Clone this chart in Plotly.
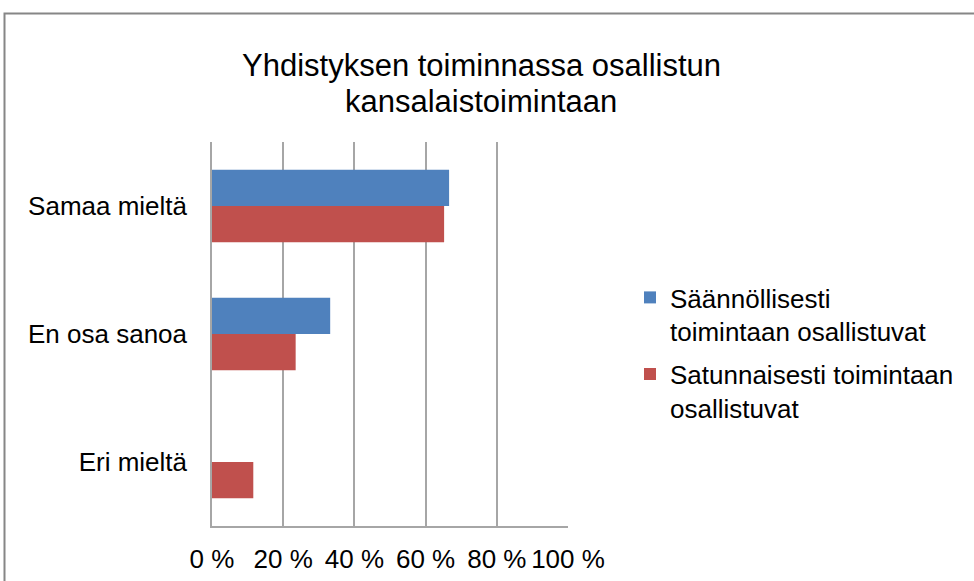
import plotly.graph_objects as go

categories = ["Samaa mieltä", "En osa sanoa", "Eri mieltä"]
series_names = ["Säännöllisesti<br>toimintaan osallistuvat",
                "Satunnaisesti toimintaan<br>osallistuvat"]
saannollisesti = [66.6, 33.2, 0.0]
satunnaisesti = [65.2, 23.5, 11.6]
tick_values = [0, 20, 40, 60, 80, 100]
tick_labels = ["0 %", "20 %", "40 %", "60 %", "80 %", "100 %"]
title_lines = ["Yhdistyksen toiminnassa osallistun", "kansalaistoimintaan"]

W, H = 974, 581
L, R, T, B = 212, 974 - 568, 142, 581 - 526
pw, ph = W - L - R, H - T - B

def px_x(x):
    return (x - L) / pw

def px_y(y):
    return (H - B - y) / ph

FONT = "Liberation Sans, Arial, sans-serif"

fig = go.Figure()
fig.add_trace(go.Bar(
    y=categories, x=saannollisesti, orientation="h", name=series_names[0],
    marker=dict(color="#4F81BD", line=dict(width=0)),
    legendgroup="a",
))
fig.add_trace(go.Bar(
    y=categories, x=satunnaisesti, orientation="h", name=series_names[1],
    marker=dict(color="#C0504D", line=dict(width=0)),
    legendgroup="b",
))

annotations = []
for line, ypix in zip(title_lines, [66, 102]):
    annotations.append(dict(
        text=line, xref="paper", yref="paper", x=px_x(481), y=px_y(ypix),
        xanchor="center", yanchor="middle", showarrow=False,
        font=dict(family=FONT, size=31, color="#000000"),
    ))

fig.update_layout(
    width=W, height=H, autosize=False,
    margin=dict(l=L, r=R, t=T, b=B, pad=0, autoexpand=False),
    paper_bgcolor="white", plot_bgcolor="white",
    barmode="group", bargap=0.434, bargroupgap=0,
    font=dict(family=FONT, size=26, color="#000000"),
    showlegend=True,
    legend=dict(
        x=px_x(630), y=px_y(274), xanchor="left", yanchor="top",
        xref="paper", yref="paper", valign="top",
        font=dict(family=FONT, size=26, color="#000000"),
        tracegroupgap=6, bgcolor="rgba(0,0,0,0)",
    ),
    xaxis=dict(
        range=[0, 100], tickvals=tick_values, ticktext=tick_labels,
        showgrid=True, gridcolor="#A6A6A6", gridwidth=1.5,
        showline=True, linecolor="#A6A6A6", linewidth=1.5,
        zeroline=False, ticks="", ticklabelstandoff=9, fixedrange=True,
        automargin=False,
    ),
    yaxis=dict(
        autorange="reversed", showgrid=False,
        showline=True, linecolor="#A6A6A6", linewidth=1.5,
        ticks="", ticklabelstandoff=18, fixedrange=True,
        automargin=False,
    ),
    annotations=annotations,
    shapes=[dict(
        type="rect", xref="paper", yref="paper",
        x0=px_x(4.5), x1=px_x(1000), y0=px_y(610), y1=px_y(13.5),
        line=dict(color="#868686", width=2), fillcolor="rgba(0,0,0,0)",
        layer="below",
    )],
)

fig.write_html("out.html",
               config={"displayModeBar": False},
               post_script="document.body.style.margin='0';document.body.style.overflow='hidden';")
